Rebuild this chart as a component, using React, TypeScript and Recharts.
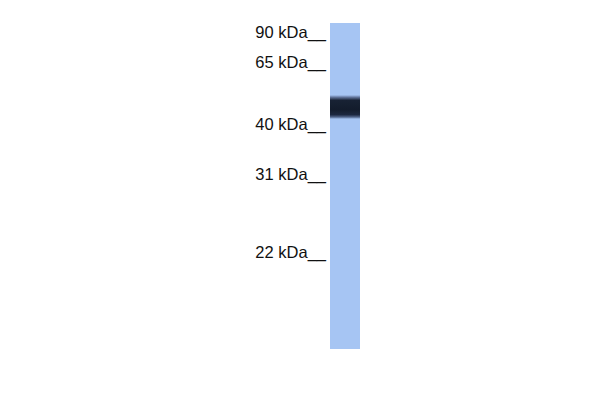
import React from 'react';
import { BarChart, Bar, XAxis, YAxis } from 'recharts';

// marker ladder (migration measured from the top of the lane, in px)
const markerLabels = ['90 kDa', '65 kDa', '40 kDa', '31 kDa', '22 kDa'];
const markerMigration = [9, 39.5, 101.5, 151, 229];

// one sample lane: clear gel above the band, the band, clear gel below
const lanes = ['Lane 1'];
const gelAbove = [72];
const bandSize = [24];
const gelBelow = [230];

const laneLength = 326;

const data = lanes.map((lane, i) => ({
  lane,
  above: gelAbove[i],
  band: bandSize[i],
  below: gelBelow[i],
}));

const labelFor = (v: number) => {
  const i = markerMigration.indexOf(v);
  return i >= 0 ? `${markerLabels[i]}__` : '';
};

const laneColor = '#a6c5f3';

const App: React.FC = () => {
  return (
    <div style={{ position: 'absolute', left: 0, top: 0, background: '#fff' }}>
      <BarChart
        width={600}
        height={400}
        data={data}
        margin={{ top: 23, right: 240, bottom: 51, left: 230 }}
        barCategoryGap={0}
      >
        <defs>
          <linearGradient id="bandFill" x1="0" y1="0" x2="0" y2="1">
            <stop offset="0%" stopColor={laneColor} />
            <stop offset="10%" stopColor="#5d7096" />
            <stop offset="22%" stopColor="#182234" />
            <stop offset="60%" stopColor="#131c2c" />
            <stop offset="82%" stopColor="#1c2840" />
            <stop offset="92%" stopColor="#52668c" />
            <stop offset="100%" stopColor={laneColor} />
          </linearGradient>
        </defs>
        <XAxis dataKey="lane" hide />
        <YAxis
          type="number"
          reversed
          domain={[0, laneLength]}
          ticks={markerMigration}
          tickFormatter={labelFor}
          interval={0}
          width={100}
          axisLine={false}
          tickLine={false}
          tickSize={0}
          tickMargin={4}
          tick={{ fill: '#111', fontSize: 16.5, fontFamily: 'Liberation Sans, Arial, sans-serif' }}
        />
        <Bar dataKey="above" stackId="lane" fill={laneColor} isAnimationActive={false} />
        <Bar dataKey="band" stackId="lane" fill="url(#bandFill)" isAnimationActive={false} />
        <Bar dataKey="below" stackId="lane" fill={laneColor} isAnimationActive={false} />
      </BarChart>
    </div>
  );
};

export default App;
